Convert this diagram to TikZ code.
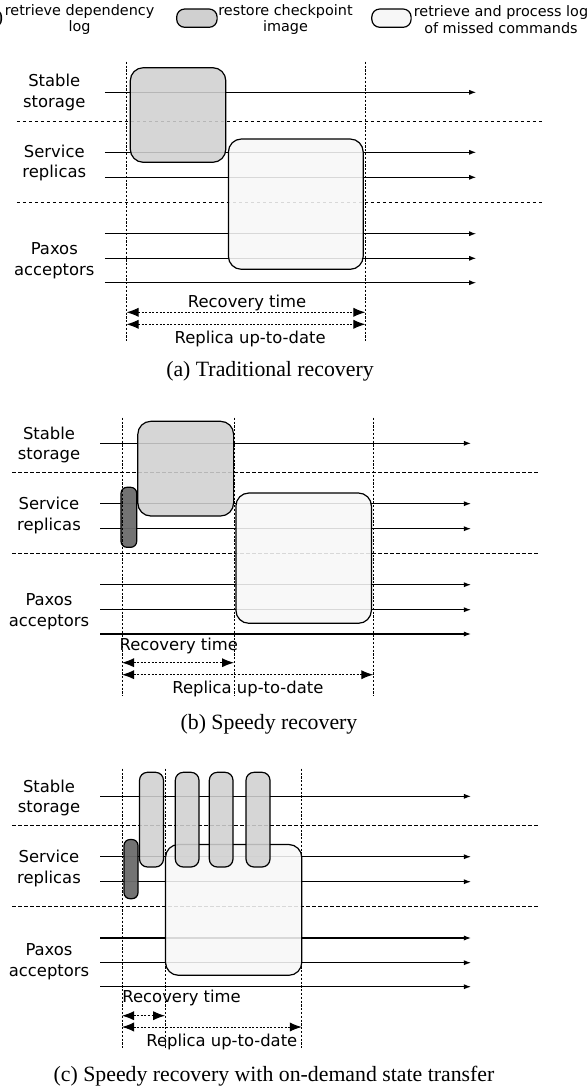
\documentclass[tikz,border=0pt]{standalone}
\usepackage{fontspec}
\setmainfont{Liberation Serif}
\newfontfamily\lanefont{DejaVu Sans}
\usetikzlibrary{arrows.meta}
\definecolor{ckptgray}{RGB}{208,208,208}
\definecolor{loggray}{RGB}{247,247,247}
\definecolor{depgray}{RGB}{108,108,108}

\begin{document}
\begin{tikzpicture}[x=0.5pt, y=-0.5pt,
    lane/.style={-{Latex[length=3.6pt,width=2.6pt]}, line width=0.55pt},
    lanesep/.style={line width=0.5pt, dash pattern=on 1.8pt off 1.2pt},
    phase/.style={line width=0.45pt, dash pattern=on 1.1pt off 0.8pt},
    span/.style={{Latex[length=6pt,width=4.6pt]}-{Latex[length=6pt,width=4.6pt]}, line width=0.5pt, dash pattern=on 1pt off 0.8pt},
    ckptbox/.style={draw, line width=0.6pt, fill=ckptgray, fill opacity=0.88, rounded corners=6.5pt},
    pillbox/.style={draw, line width=0.6pt, fill=ckptgray, fill opacity=0.88, rounded corners=4pt},
    logbox/.style={draw, line width=0.6pt, fill=loggray, fill opacity=0.88, rounded corners=6.5pt},
    depbox/.style={draw, line width=0.6pt, fill=depgray, fill opacity=0.95, rounded corners=3pt},
    legbox/.style={draw, line width=0.6pt, rounded corners=4pt},
    txt/.style={font=\lanefont\fontsize{8.2}{10.3}\selectfont, align=center, inner sep=0pt},
    legtxt/.style={font=\lanefont\fontsize{7.2}{8.4}\selectfont, align=center, inner sep=0pt},
    capt/.style={font=\fontsize{10.9}{12}\selectfont, inner sep=0pt}]
    \useasboundingbox (0,0) rectangle (587,1087);

    % Legend
    \draw[legbox, fill=depgray] (-20,9) rectangle (1.5,27.3);
    \node[legtxt] (legdep) at (79.6,19.5) {retrieve dependency\\log};
    \draw[legbox, fill=ckptgray] (176.7,9) rectangle (217.1,27.3);
    \node[legtxt] (legckpt) at (285.5,19.5) {restore checkpoint\\image};
    \draw[legbox, fill=loggray] (371.8,9) rectangle (411.1,27.3);
    \node[legtxt] (leglog) at (501,19.5) {retrieve and process log\\of missed commands};

    % (a) Traditional recovery
    \node[txt] (ssA) at (54.3,92.5) {Stable\\storage};
    \node[txt] (srA) at (54.3,163) {Service\\replicas};
    \node[txt] (paA) at (54.3,260.7) {Paxos\\acceptors};
    \draw[lane] (104.8,92.3) -- (476.2,92.3);
    \draw[lane] (104.8,152.3) -- (476.2,152.3);
    \draw[lane] (104.8,177.3) -- (476.2,177.3);
    \draw[lane] (104.8,233.7) -- (476.2,233.7);
    \draw[lane] (104.8,258.3) -- (476.2,258.3);
    \draw[lane] (104.8,282.7) -- (476.2,282.7);
    \draw[lanesep] (16.8,121.3) -- (543.6,121.3);
    \draw[lanesep] (16.8,202) -- (543.6,202);
    \draw[ckptbox] (130.3,67.7) rectangle (225.8,162.3);
    \draw[logbox] (228.4,139) rectangle (363.2,269.3);
    \draw[phase] (126.5,61.7) -- (126.5,342);
    \draw[phase] (365.4,61.7) -- (365.4,342);
    \node[txt] (rtA) at (247.1,303) {Recovery time};
    \draw[span] (126.5,312.3) -- (365.4,312.3);
    \draw[span] (126.5,324.3) -- (365.4,324.3);
    \node[txt] (udA) at (250.1,338.5) {Replica up-to-date};
    \node[capt] (capA) at (270,371.5) {(a) Traditional recovery};

    % (b) Speedy recovery
    \node[txt] (ssB) at (49,445) {Stable\\storage};
    \node[txt] (srB) at (49,515.7) {Service\\replicas};
    \node[txt] (paB) at (49,611.5) {Paxos\\acceptors};
    \draw[lane] (100,443.3) -- (471,443.3);
    \draw[lane] (100,503.7) -- (471,503.7);
    \draw[lane] (100,528.7) -- (471,528.7);
    \draw[lane] (100,584.7) -- (471,584.7);
    \draw[lane] (100,609.7) -- (471,609.7);
    \draw[lane] (100,634) -- (471,634);
    \draw[lanesep] (12,472.3) -- (539,472.3);
    \draw[lanesep] (12,553.7) -- (539,553.7);
    \draw[ckptbox] (137.8,421.3) rectangle (233.6,516);
    \draw[depbox] (121,487.3) rectangle (136.7,547.3);
    \draw[logbox] (235.9,493) rectangle (371.4,623.3);
    \draw[phase] (122,417.7) -- (122,696);
    \draw[phase] (234,417.7) -- (234,696);
    \draw[phase] (373.3,417.7) -- (373.3,696);
    \node[txt] (rtB) at (178.8,646) {Recovery time};
    \draw[span] (122,662.7) -- (234,662.7);
    \draw[span] (122,674.7) -- (373.3,674.7);
    \node[txt] (udB) at (247.9,688.5) {Replica up-to-date};
    \node[capt] (capB) at (269,724) {(b) Speedy recovery};

    % (c) Speedy recovery with on-demand state transfer
    \node[txt] (ssC) at (49,797.8) {Stable\\storage};
    \node[txt] (srC) at (49,868.5) {Service\\replicas};
    \node[txt] (paC) at (49,962) {Paxos\\acceptors};
    \draw[lane] (100,796.3) -- (471,796.3);
    \draw[lane] (100,856.7) -- (471,856.7);
    \draw[lane] (100,881.7) -- (471,881.7);
    \draw[lane] (100,938) -- (471,938);
    \draw[lane] (100,962.7) -- (471,962.7);
    \draw[lane] (100,986.7) -- (471,986.7);
    \draw[lanesep] (12,825.7) -- (539,825.7);
    \draw[lanesep] (12,906.7) -- (539,906.7);
    \draw[logbox] (165.5,844.5) rectangle (301.8,975.3);
    \draw[pillbox] (139.5,772.3) rectangle (163.5,867);
    \draw[pillbox] (175.3,772.3) rectangle (199,867);
    \draw[pillbox] (209.3,772.3) rectangle (233,867);
    \draw[pillbox] (246,772.3) rectangle (270,867);
    \draw[depbox] (124,839.5) rectangle (138,898.7);
    \draw[phase] (122,768.7) -- (122,1048.3);
    \draw[phase] (165.1,768.7) -- (165.1,1048.3);
    \draw[phase] (301.8,768.7) -- (301.8,1048.3);
    \node[txt] (rtC) at (181.6,998) {Recovery time};
    \draw[span] (122,1015.7) -- (165.1,1015.7);
    \draw[span] (122,1027) -- (301.8,1027);
    \node[txt] (udC) at (221.8,1042) {Replica up-to-date};
    \node[capt] (capC) at (274,1076) {(c) Speedy recovery with on-demand state transfer};
\end{tikzpicture}
\end{document}
